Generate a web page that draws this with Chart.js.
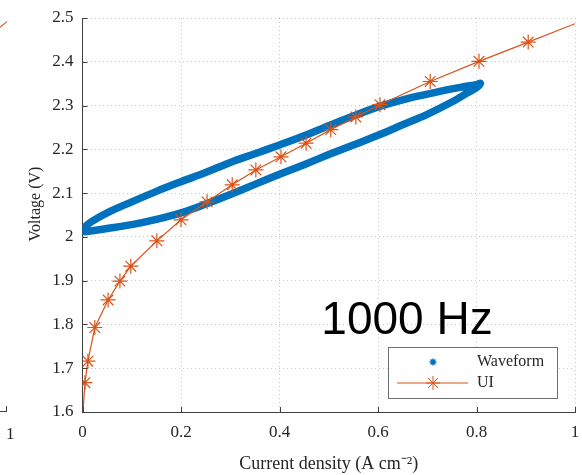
<!DOCTYPE html>
<html>
<head>
<meta charset="utf-8">
<script src="https://cdn.jsdelivr.net/npm/chart.js@4.4.1/dist/chart.umd.min.js"></script>
<style>
    html, body { margin: 0; padding: 0; background: #fff; }
    #wrap { position: relative; width: 582px; height: 475px; overflow: hidden; }
    #ivChart { position: absolute; left: 0; top: 0; }
    /* bits of the neighbouring panel cut off at the left edge */
    .stub-axis { position: absolute; left: 0; top: 411px; width: 7px; height: 0; border-top: 1px solid #404040; }
    .stub-tick { position: absolute; left: 6px; top: 406px; width: 0; height: 5px; border-left: 1px solid #404040; }
    .stub-label { position: absolute; left: 6px; top: 424px; font: 17px 'Liberation Serif', serif; color: #262626; }
    .stub-line { position: absolute; left: -1px; top: 24px; width: 9px; height: 0; border-top: 1px solid #D95319; transform: rotate(-38deg); }
</style>
</head>
<body>
<div id="wrap">
    <canvas id="ivChart" width="582" height="475"></canvas>
    <div class="stub-axis"></div>
    <div class="stub-tick"></div>
    <span class="stub-label">1</span>
    <div class="stub-line"></div>
</div>
<script>
// Waveform loop (current density, voltage) - upper branch then lower branch back
const waveX = [0.000, 0.005, 0.02, 0.05, 0.10, 0.15, 0.20, 0.25, 0.30, 0.35, 0.40, 0.45, 0.50, 0.55, 0.60, 0.65, 0.70, 0.75, 0.78, 0.80, 0.808,
               0.80, 0.78, 0.75, 0.70, 0.65, 0.60, 0.55, 0.50, 0.45, 0.40, 0.35, 0.30, 0.25, 0.20, 0.15, 0.10, 0.05, 0.02, 0.005, 0.000];
const waveY = [2.014, 2.023, 2.036, 2.055, 2.080, 2.104, 2.126, 2.147, 2.170, 2.190, 2.210, 2.231, 2.254, 2.276, 2.297, 2.313, 2.326, 2.338, 2.344, 2.348, 2.351,
               2.341, 2.328, 2.308, 2.280, 2.256, 2.232, 2.210, 2.188, 2.165, 2.143, 2.120, 2.097, 2.075, 2.055, 2.040, 2.028, 2.019, 2.014, 2.012, 2.014];

// UI polarisation curve (line ends have no marker)
const uiX = [0.001, 0.005, 0.011, 0.025, 0.052, 0.076, 0.098, 0.151, 0.200, 0.253, 0.304, 0.352, 0.403, 0.454, 0.504, 0.555, 0.604, 0.706, 0.805, 0.905, 1.000];
const uiY = [1.600, 1.667, 1.716, 1.793, 1.856, 1.899, 1.933, 1.991, 2.039, 2.080, 2.119, 2.153, 2.183, 2.214, 2.245, 2.274, 2.302, 2.355, 2.401, 2.445, 2.487];
const uiMarker = [false, true, true, true, true, true, true, true, true, true, true, true, true, true, true, true, true, true, true, true, false];

const seriesLabels = ['Waveform', 'UI'];
const xTitle = 'Current density (A cm⁻²)';
const yTitle = 'Voltage (V)';
const noteText = '1000 Hz';

const blue = '#0072BD';
const orange = '#D95319';
const axisColor = '#404040';
const textColor = '#262626';
const serif = "'Liberation Serif', 'Times New Roman', serif";

Chart.defaults.font.family = serif;
Chart.defaults.color = textColor;

const wavePoints = waveX.map((x, i) => ({ x: x, y: waveY[i] }));
const uiPoints = uiX.map((x, i) => ({ x: x, y: uiY[i] }));

// MATLAB-like labels: 2 instead of 2.00, 2.5 instead of 2.50
const shortNum = v => String(Number(v.toFixed(2)));

// MATLAB style ticks pointing into the axes, plus the rotated y title
const inwardTicks = {
    id: 'inwardTicks',
    afterDraw(chart) {
        const { ctx, chartArea: a, scales: { x, y } } = chart;
        ctx.save();
        ctx.strokeStyle = axisColor;
        ctx.lineWidth = 1;
        ctx.beginPath();
        x.ticks.forEach(t => {
            const px = Math.round(x.getPixelForValue(t.value)) + 0.5;
            ctx.moveTo(px, a.bottom);
            ctx.lineTo(px, a.bottom - 5);
        });
        y.ticks.forEach(t => {
            const py = Math.round(y.getPixelForValue(t.value)) + 0.5;
            ctx.moveTo(a.left, py);
            ctx.lineTo(a.left + 5, py);
        });
        ctx.stroke();

        ctx.translate(36, (a.top + a.bottom) / 2 - 11);
        ctx.rotate(-Math.PI / 2);
        ctx.fillStyle = textColor;
        ctx.font = '16px ' + serif;
        ctx.textAlign = 'center';
        ctx.textBaseline = 'middle';
        ctx.fillText(chart.options.scales.y.title.text, 0, 0);
        ctx.restore();
    }
};

function drawStar(ctx, cx, cy, r) {
    const d = r * Math.SQRT1_2;
    ctx.beginPath();
    ctx.moveTo(cx - r, cy); ctx.lineTo(cx + r, cy);
    ctx.moveTo(cx, cy - r); ctx.lineTo(cx, cy + r);
    ctx.moveTo(cx - d, cy - d); ctx.lineTo(cx + d, cy + d);
    ctx.moveTo(cx - d, cy + d); ctx.lineTo(cx + d, cy - d);
    ctx.stroke();
}

// legend box in the lower right corner and the frequency note
const boxLegend = {
    id: 'boxLegend',
    afterDraw(chart) {
        const { ctx, chartArea: a, scales: { x, y } } = chart;
        const ds = chart.data.datasets;
        const right = a.right - 18, bottom = a.bottom - 14;
        const w = 169, h = 51;
        const left = right - w, top = bottom - h;
        ctx.save();
        ctx.fillStyle = '#fff';
        ctx.fillRect(left, top, w, h);
        ctx.strokeStyle = '#6e6e6e';
        ctx.lineWidth = 1;
        ctx.strokeRect(Math.round(left) + 0.5, Math.round(top) + 0.5, w, h);

        const mx = left + 45;
        const tx = left + 89;
        const y1 = top + 15, y2 = top + 36;
        // Waveform entry
        ctx.strokeStyle = blue;
        ctx.lineWidth = 1.5;
        drawStar(ctx, mx, y1, 3.5);
        // UI entry
        ctx.strokeStyle = orange;
        ctx.lineWidth = 1;
        ctx.beginPath();
        ctx.moveTo(left + 9, y2); ctx.lineTo(left + 80, y2);
        ctx.stroke();
        drawStar(ctx, mx, y2, 7);

        ctx.fillStyle = textColor;
        ctx.font = '16px ' + serif;
        ctx.textBaseline = 'middle';
        ctx.fillText(ds[0].label, tx, y1);
        ctx.fillText(ds[1].label, tx, y2);

        ctx.font = "46px 'Liberation Sans', Arial, sans-serif";
        ctx.fillStyle = '#000';
        ctx.textBaseline = 'alphabetic';
        ctx.fillText(noteText, x.getPixelForValue(0.485), y.getPixelForValue(1.778));
        ctx.restore();
    }
};

const ctx = document.getElementById('ivChart').getContext('2d');
const ivChart = new Chart(ctx, {
    type: 'scatter',
    data: {
        datasets: [{
            label: seriesLabels[0],
            data: wavePoints,
            showLine: true,
            borderColor: blue,
            borderWidth: 7.5,
            borderCapStyle: 'round',
            borderJoinStyle: 'round',
            tension: 0.35,
            pointRadius: 0,
            order: 2
        }, {
            label: seriesLabels[1],
            data: uiPoints,
            showLine: true,
            borderColor: orange,
            backgroundColor: orange,
            borderWidth: 1.2,
            tension: 0,
            pointStyle: 'star',
            pointRadius: uiMarker.map(m => m ? 7.5 : 0),
            pointBorderWidth: 1.2,
            pointBorderColor: orange,
            order: 1
        }]
    },
    options: {
        responsive: false,
        animation: false,
        devicePixelRatio: 1,
        layout: { padding: { top: 18, right: 7, left: 0, bottom: 0 } },
        plugins: {
            legend: { display: false },
            tooltip: { enabled: false }
        },
        scales: {
            x: {
                type: 'linear',
                min: 0,
                max: 1,
                ticks: { stepSize: 0.2, padding: 10, font: { size: 17 }, color: textColor, callback: shortNum },
                grid: { color: 'rgba(0,0,0,0.22)', drawTicks: false },
                border: { display: true, color: axisColor, width: 1, dash: [1, 3] },
                title: { display: true, text: xTitle, font: { size: 18 }, color: textColor, padding: { top: 0, bottom: 0 } },
                afterFit(scale) {
                    scale.height = 63;
                    scale.paddingLeft = 0;
                    scale.paddingRight = 0;
                }
            },
            y: {
                type: 'linear',
                min: 1.6,
                max: 2.5,
                ticks: { stepSize: 0.1, padding: 9, font: { size: 17 }, color: textColor, callback: shortNum },
                grid: { color: 'rgba(0,0,0,0.22)', drawTicks: false },
                border: { display: true, color: axisColor, width: 1, dash: [1, 3] },
                // drawn by the inwardTicks plugin so it can sit close to the tick labels
                title: { display: false, text: yTitle },
                afterFit(scale) {
                    scale.width = 82.5;
                    scale.paddingTop = 0;
                    scale.paddingBottom = 0;
                }
            }
        }
    },
    plugins: [inwardTicks, boxLegend]
});
</script>
</body>
</html>
